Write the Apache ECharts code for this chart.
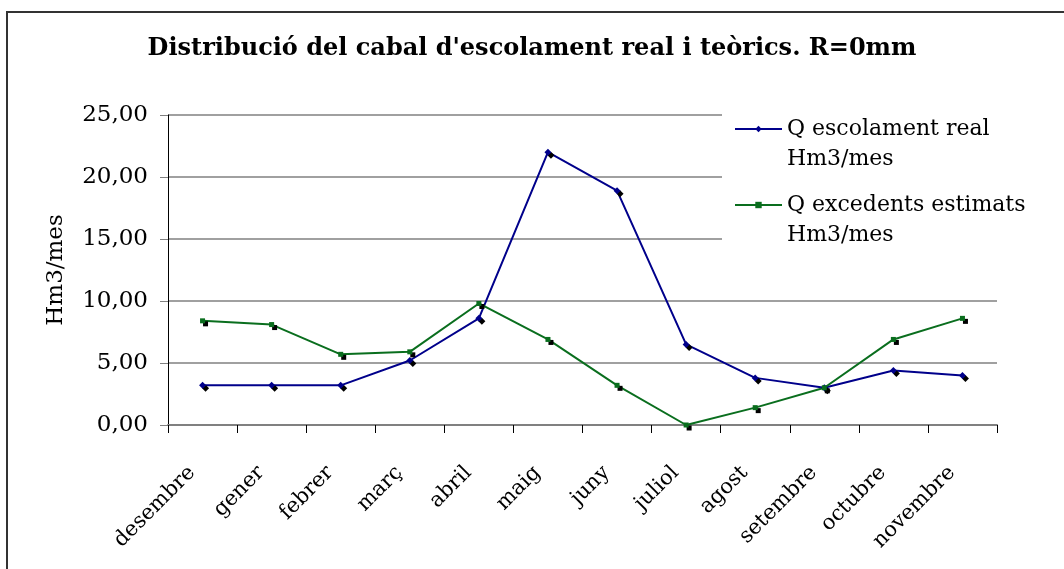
<!DOCTYPE html>
<html>
<head>
<meta charset="utf-8">
<script src="https://cdn.jsdelivr.net/npm/echarts@6/dist/echarts.min.js"></script>
<style>
  html, body { margin: 0; padding: 0; background: #fff; }
  #chart { width: 1064px; height: 569px; }
</style>
</head>
<body>
<div id="chart"></div>
<script>
var myChart = echarts.init(document.getElementById('chart'));
var serif = '"DejaVu Serif", "Liberation Serif", serif';
var blue = '#00008b';
var green = '#0a6e1e';

var months = ['desembre', 'gener', 'febrer', 'març', 'abril', 'maig',
    'juny', 'juliol', 'agost', 'setembre', 'octubre', 'novembre'];
var realFlow = [3.2, 3.2, 3.2, 5.2, 8.6, 22.0, 18.9, 6.5, 3.8, 3.0, 4.4, 4.0];
var estimated = [8.4, 8.1, 5.7, 5.9, 9.8, 6.9, 3.2, 0.0, 1.4, 3.0, 6.9, 8.6];
var seriesNames = ['Q escolament real\nHm3/mes', 'Q excedents estimats\nHm3/mes'];

// black offset dots under every marker
var dotShadow = {
    shadowColor: '#000',
    shadowBlur: 0,
    shadowOffsetX: 3,
    shadowOffsetY: 3
};

var option = {
    backgroundColor: '#fff',
    animation: false,
    title: {
        text: "Distribució del cabal d'escolament real i teòrics. R=0mm",
        left: 'center',
        top: 32,
        textStyle: {
            fontFamily: serif,
            fontWeight: 'bold',
            fontSize: 24,
            color: '#000'
        }
    },
    graphic: [{
        type: 'rect',
        shape: { x: 7, y: 12, width: 1070, height: 600 },
        style: { fill: 'none', stroke: '#333', lineWidth: 2 },
        z: 100
    }],
    legend: {
        orient: 'vertical',
        left: 722,
        top: 76,
        padding: [8, 20, 8, 12],
        backgroundColor: '#fff',
        itemWidth: 47,
        itemHeight: 8,
        itemGap: -14,
        itemStyle: { shadowOffsetX: 0, shadowOffsetY: 0, shadowColor: 'transparent' },
        formatter: function (name) { return '\n' + name; },
        textStyle: {
            fontFamily: serif,
            fontSize: 22,
            lineHeight: 30,
            color: '#000'
        },
        data: seriesNames
    },
    grid: {
        left: 168,
        right: 67,
        top: 115,
        bottom: 144
    },
    xAxis: {
        type: 'category',
        data: months,
        boundaryGap: true,
        axisLine: { lineStyle: { color: '#808080', width: 2 } },
        axisTick: { show: true, length: 8, lineStyle: { color: '#000' } },
        axisLabel: {
            rotate: 45,
            margin: 34,
            padding: [0, 15, 0, 0],
            fontFamily: serif,
            fontSize: 21,
            color: '#000'
        }
    },
    yAxis: {
        type: 'value',
        min: 0,
        max: 25,
        interval: 5,
        name: 'Hm3/mes',
        nameLocation: 'middle',
        nameGap: 100,
        nameTextStyle: { fontFamily: serif, fontSize: 23, color: '#000' },
        axisLine: { show: true, lineStyle: { color: '#000', width: 1 } },
        axisTick: { show: true, length: 8, lineStyle: { color: '#808080' } },
        splitLine: { lineStyle: { color: '#808080', width: 1.5 } },
        axisLabel: {
            margin: 20,
            fontFamily: serif,
            fontSize: 23,
            color: '#000',
            formatter: function (v) { return v.toFixed(2).replace('.', ','); }
        }
    },
    series: [{
        name: seriesNames[0],
        type: 'line',
        data: realFlow,
        symbol: 'diamond',
        symbolSize: 7,
        color: blue,
        lineStyle: { color: blue, width: 2 },
        itemStyle: Object.assign({ color: blue }, dotShadow)
    }, {
        name: seriesNames[1],
        type: 'line',
        data: estimated,
        symbol: 'rect',
        symbolSize: 5,
        color: green,
        lineStyle: { color: green, width: 2 },
        itemStyle: Object.assign({ color: green }, dotShadow)
    }]
};
myChart.setOption(option);
</script>
</body>
</html>
